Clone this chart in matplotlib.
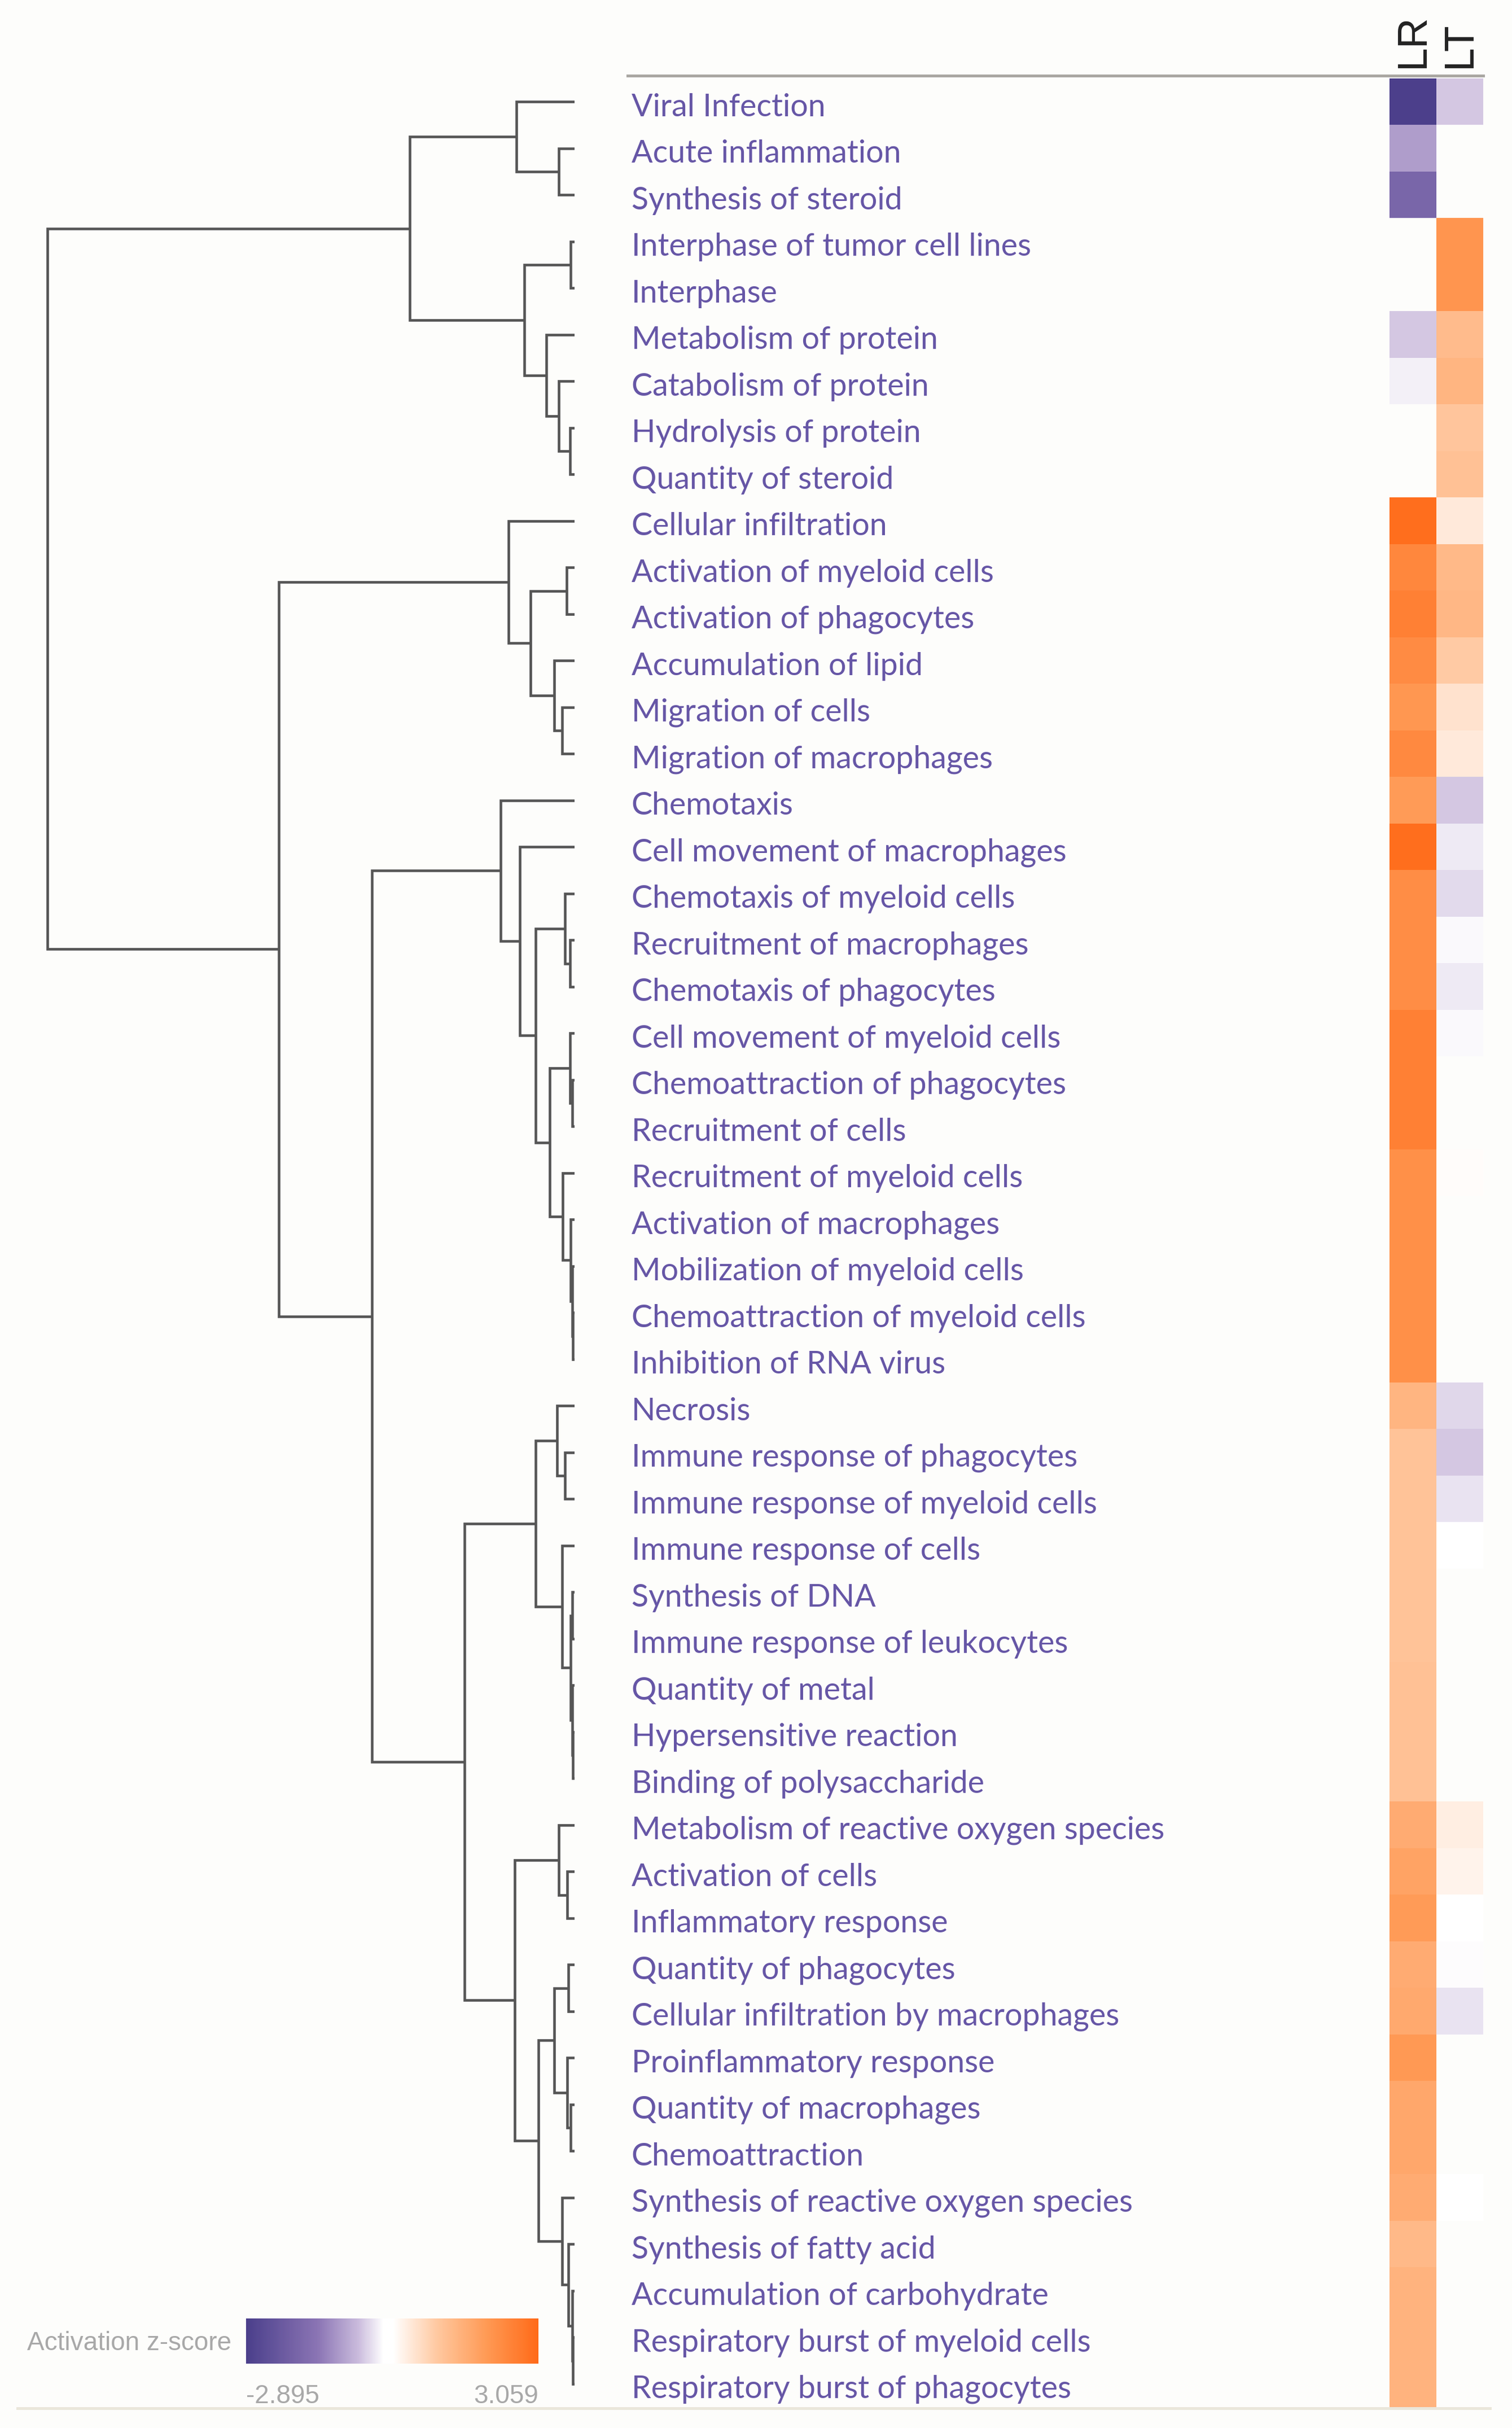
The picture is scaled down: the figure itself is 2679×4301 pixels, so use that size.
import numpy as np
import matplotlib
matplotlib.use("Agg")
import matplotlib.pyplot as plt
from matplotlib.colors import LinearSegmentedColormap, Normalize
from matplotlib.lines import Line2D

# row labels (top to bottom)
terms = [
    "Viral Infection", "Acute inflammation", "Synthesis of steroid",
    "Interphase of tumor cell lines", "Interphase", "Metabolism of protein",
    "Catabolism of protein", "Hydrolysis of protein", "Quantity of steroid",
    "Cellular infiltration", "Activation of myeloid cells", "Activation of phagocytes",
    "Accumulation of lipid", "Migration of cells", "Migration of macrophages",
    "Chemotaxis", "Cell movement of macrophages", "Chemotaxis of myeloid cells",
    "Recruitment of macrophages", "Chemotaxis of phagocytes", "Cell movement of myeloid cells",
    "Chemoattraction of phagocytes", "Recruitment of cells", "Recruitment of myeloid cells",
    "Activation of macrophages", "Mobilization of myeloid cells", "Chemoattraction of myeloid cells",
    "Inhibition of RNA virus", "Necrosis", "Immune response of phagocytes",
    "Immune response of myeloid cells", "Immune response of cells", "Synthesis of DNA",
    "Immune response of leukocytes", "Quantity of metal", "Hypersensitive reaction",
    "Binding of polysaccharide", "Metabolism of reactive oxygen species", "Activation of cells",
    "Inflammatory response", "Quantity of phagocytes", "Cellular infiltration by macrophages",
    "Proinflammatory response", "Quantity of macrophages", "Chemoattraction",
    "Synthesis of reactive oxygen species", "Synthesis of fatty acid", "Accumulation of carbohydrate",
    "Respiratory burst of myeloid cells", "Respiratory burst of phagocytes",
]
samples = ["LR", "LT"]
nan = np.nan
lr_z = [-2.85, -0.96, -1.82, nan, nan, -0.5, -0.2, nan, nan, 2.95,
        2.4, 2.55, 2.3, 2.05, 2.35, 1.95, 2.95, 2.25, 2.25, 2.25,
        2.55, 2.55, 2.55, 2.2, 2.2, 2.2, 2.2, 2.2, 1.4, 1.1,
        1.1, 1.1, 1.1, 1.1, 1.15, 1.15, 1.15, 1.6, 1.8, 1.95,
        1.6, 1.65, 2.0, 1.7, 1.7, 1.6, 1.3, 1.45, 1.45, 1.45]
lt_z = [-0.5, nan, nan, 2.1, 2.1, 1.25, 1.4, 1.05, 1.15, 0.45,
        1.3, 1.35, 0.95, 0.55, 0.45, -0.5, -0.25, -0.38, -0.14, -0.26,
        -0.14, nan, nan, 0.15, nan, nan, nan, nan, -0.4, -0.5,
        -0.3, 0.08, nan, nan, nan, nan, nan, 0.38, 0.28, 0.1,
        -0.12, -0.3, nan, nan, nan, 0.08, nan, nan, nan, nan]
zmin, zmax = -2.895, 3.059

# hierarchical clustering, scipy-style: (left, right, distance); new nodes numbered from 50
merges = [
    (1, 2, 10), (0, 50, 37), (3, 4, 2.5), (7, 8, 3), (6, 53, 10), (5, 54, 18),
    (52, 55, 32), (51, 56, 105),
    (10, 11, 5), (13, 14, 8), (12, 59, 13), (58, 60, 28), (9, 61, 42),
    (18, 19, 3), (17, 63, 6), (21, 22, 1.5), (20, 65, 3), (26, 27, 1), (25, 67, 1.5),
    (24, 68, 2.5), (23, 69, 7.5), (66, 70, 16), (64, 71, 25), (16, 72, 35), (15, 73, 47),
    (29, 30, 6), (28, 75, 11), (32, 33, 1.5), (35, 36, 1), (34, 78, 1.5), (77, 79, 2.5),
    (31, 80, 8), (76, 81, 25),
    (38, 39, 4.5), (37, 83, 10), (40, 41, 4), (43, 44, 2.5), (42, 86, 4.5), (85, 87, 13),
    (48, 49, 1), (47, 89, 1.5), (46, 90, 4), (45, 91, 8), (88, 92, 23), (84, 93, 38),
    (82, 94, 70), (74, 95, 129), (62, 96, 188.5), (57, 97, 336),
]

W, H = 2679, 4301
fig = plt.figure(figsize=(W / 100, H / 100), dpi=100, facecolor="#fdfdfb")

def box(x0, y0, x1, y1):
    return [x0 / W, 1 - y1 / H, (x1 - x0) / W, (y1 - y0) / H]

n = len(terms)
row_top, row_bot = 139, 4264

# dendrogram
axd = fig.add_axes(box(80, row_top, 1018, row_bot))
pos = {i: (float(i), 0.0) for i in range(n)}
for k, (a, b, d) in enumerate(merges):
    ya, ha = pos[a]
    yb, hb = pos[b]
    axd.plot([ha, d, d, hb], [ya, ya, yb, yb], color="#555555", lw=3.3,
             solid_joinstyle="miter", solid_capstyle="butt")
    pos[n + k] = ((ya + yb) / 2, d)
axd.set_xlim(337.5, 0)
axd.set_ylim(n - 0.5, -0.5)
axd.axis("off")

# row labels
axl = fig.add_axes(box(1112, row_top, 2462, row_bot))
axl.set_xlim(0, 1)
axl.set_ylim(n - 0.5, -0.5)
axl.axis("off")
for i, t in enumerate(terms):
    axl.text(0.005, i + 0.12, t, ha="left", va="center", fontsize=40,
             family="Lato", color="#6656a6")

# colormap
stops = [(zmin, "#4b3f8b"), (-1.45, "#8a74b4"), (-0.6, "#cbbcdd"), (-0.1, "#ffffff"),
         (0.1, "#ffffff"), (1.0, "#ffc8a0"), (2.0, "#ff9a55"), (zmax, "#ff6a18")]
cmap = LinearSegmentedColormap.from_list(
    "zscore", [((v - zmin) / (zmax - zmin), c) for v, c in stops])
norm = Normalize(zmin, zmax)

# heatmap
axh = fig.add_axes(box(2462, row_top, 2628, row_bot))
data = np.column_stack([lr_z, lt_z])
im = axh.imshow(np.ma.masked_invalid(data), cmap=cmap, norm=norm, aspect="auto",
                interpolation="nearest")
axh.set_facecolor("#fdfdfb")
axh.xaxis.tick_top()
axh.set_xticks(range(len(samples)))
axh.set_xticklabels(samples, rotation=90, fontsize=54, family="Liberation Sans",
                    color="#222222")
axh.tick_params(axis="x", length=0, pad=14)
axh.set_yticks([])
for s in axh.spines.values():
    s.set_visible(False)

# frame lines
fig.add_artist(Line2D([1112 / W, 2628 / W], [1 - 134 / H] * 2, color="#aaa7a2", lw=3.6))
fig.add_artist(Line2D([31 / W, 2640 / W], [1 - 4266 / H] * 2, color="#ebe6da", lw=3.6))

# colour key
axc = fig.add_axes(box(436, 4107, 954, 4187))
cb = fig.colorbar(im, cax=axc, orientation="horizontal")
cb.outline.set_visible(False)
axc.set_xticks([])
axc.text(-0.05, 0.45, "Activation z-score", transform=axc.transAxes, ha="right",
         va="center", fontsize=33, family="Liberation Sans", color="#a8a8a8")
axc.text(0.0, -0.45, f"{zmin:.3f}", transform=axc.transAxes, ha="left", va="top",
         fontsize=33, family="Liberation Sans", color="#a8a8a8")
axc.text(1.0, -0.45, f"{zmax:.3f}", transform=axc.transAxes, ha="right", va="top",
         fontsize=33, family="Liberation Sans", color="#a8a8a8")

fig.savefig("out.png", dpi=100, facecolor=fig.get_facecolor())
